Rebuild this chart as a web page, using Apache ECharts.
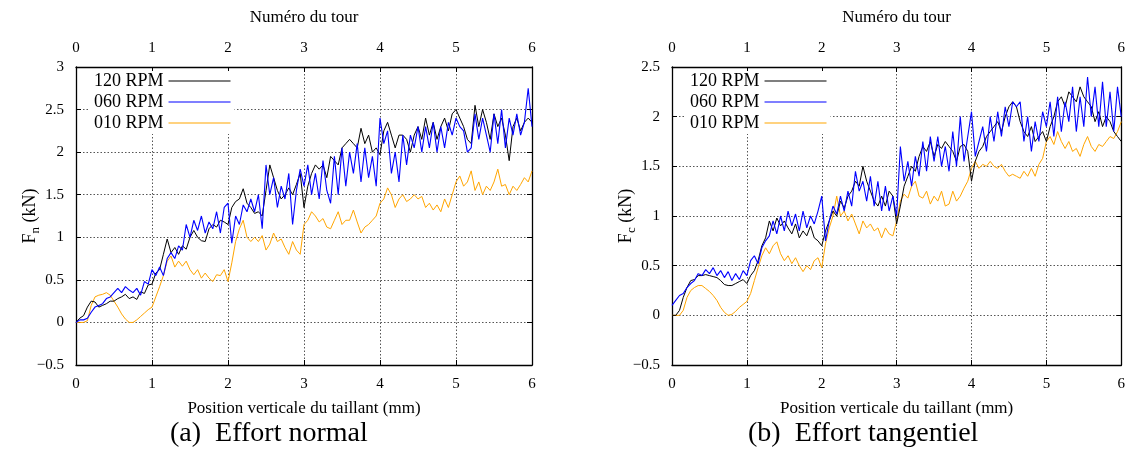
<!DOCTYPE html>
<html>
<head>
<meta charset="utf-8">
<script src="https://cdn.jsdelivr.net/npm/echarts@6/dist/echarts.min.js"></script>
<style>
html,body{margin:0;padding:0;background:#fff;}
#c{width:1128px;height:450px;}
</style>
</head>
<body>
<div id="c"></div>
<script>
// Position step (mm) between samples
const STEP = 0.05;
const seriesNames = ['120 RPM', '060 RPM', '010 RPM'];
const captions = ['(a)  Effort normal', '(b)  Effort tangentiel'];

// Panel (a): normal force Fn (kN)
const fn120 = [0.0,0.05,0.08,0.18,0.25,0.24,0.18,0.2,0.22,0.25,0.25,0.28,0.3,0.33,0.28,0.3,0.27,0.36,0.34,0.44,
0.45,0.58,0.62,0.8,0.98,0.82,0.88,0.8,0.9,0.86,1.0,1.08,1.0,0.96,0.95,1.1,1.15,1.12,1.2,1.18,
1.15,1.35,1.42,1.45,1.57,1.4,1.35,1.28,1.3,1.25,1.55,1.85,1.7,1.55,1.45,1.5,1.58,1.5,1.62,1.75,
1.35,1.6,1.75,1.85,1.8,1.85,1.7,1.95,1.9,1.85,2.05,2.1,2.15,2.1,2.05,2.28,2.1,2.2,2.0,2.05,
1.97,2.25,2.35,2.2,2.05,2.2,2.2,2.15,2.0,2.2,2.3,2.15,2.4,2.2,2.35,2.15,2.3,2.4,2.25,2.45,
2.5,2.4,2.3,2.15,2.1,2.55,2.3,2.5,2.35,2.15,2.45,2.3,2.4,2.2,1.9,2.3,2.4,2.25,2.35,2.4,2.35];
const fn060 = [0.0,0.03,0.03,0.05,0.12,0.18,0.2,0.22,0.28,0.3,0.35,0.4,0.35,0.42,0.38,0.35,0.4,0.32,0.48,0.45,
0.62,0.55,0.65,0.55,0.75,0.82,0.75,0.9,0.85,1.15,1.0,1.2,1.08,1.25,1.05,1.18,1.1,1.3,1.05,1.35,
1.4,0.93,1.25,1.15,1.38,1.3,1.45,1.3,1.5,1.1,1.85,1.5,1.7,1.35,1.6,1.45,1.75,1.15,1.55,1.8,
1.6,1.85,1.5,1.75,1.45,1.9,1.55,1.4,1.95,1.5,2.05,1.6,2.0,1.75,2.1,1.65,2.05,1.7,1.95,1.6,
2.4,2.1,2.25,1.75,2.0,1.65,2.2,1.85,2.2,2.05,2.3,2.0,2.3,2.05,2.35,2.0,2.3,2.05,2.35,2.2,
2.4,2.3,2.25,2.0,2.05,2.45,2.15,2.4,2.2,2.0,2.45,2.1,2.5,2.05,2.4,2.2,2.45,2.2,2.35,2.75,2.3];
const fn010 = [0.0,0.0,0.0,0.02,0.2,0.3,0.32,0.33,0.35,0.32,0.25,0.18,0.1,0.04,0.0,0.0,0.03,0.07,0.11,0.15,
0.18,0.3,0.42,0.55,0.72,0.78,0.65,0.72,0.66,0.72,0.62,0.56,0.62,0.52,0.58,0.52,0.48,0.56,0.55,0.62,
0.48,0.7,0.95,1.1,1.2,1.0,0.95,1.0,0.95,1.02,0.85,0.92,1.05,0.95,0.98,0.88,0.8,0.95,0.85,0.8,
1.15,1.2,1.3,1.25,1.18,1.22,1.12,1.1,1.2,1.3,1.15,1.2,1.2,1.32,1.18,1.05,1.12,1.15,1.2,1.25,
1.4,1.45,1.58,1.5,1.35,1.45,1.5,1.42,1.45,1.5,1.45,1.48,1.35,1.4,1.32,1.38,1.3,1.45,1.35,1.5,
1.65,1.72,1.6,1.65,1.78,1.55,1.65,1.5,1.6,1.55,1.65,1.8,1.6,1.62,1.5,1.6,1.55,1.62,1.7,1.65,1.78];

// Panel (b): tangential force Fc (kN)
const fc120 = [0.0,0.0,0.05,0.18,0.28,0.35,0.36,0.4,0.4,0.41,0.4,0.39,0.38,0.35,0.31,0.3,0.3,0.32,0.34,0.36,
0.32,0.4,0.45,0.55,0.7,0.78,0.95,0.85,0.98,0.9,0.95,0.88,0.82,0.92,0.78,0.85,0.8,0.9,0.78,0.75,
0.7,0.85,0.95,1.05,1.0,1.15,1.08,1.2,1.25,1.35,1.3,1.5,1.35,1.25,1.15,1.1,1.2,1.1,1.25,1.2,
0.92,1.1,1.3,1.4,1.5,1.45,1.6,1.7,1.65,1.75,1.6,1.72,1.68,1.75,1.7,1.65,1.55,1.7,1.72,1.65,
1.35,1.55,1.65,1.7,1.8,1.85,1.9,1.95,1.85,2.0,2.1,2.15,2.1,1.95,1.85,1.8,1.9,1.75,1.8,1.85,
1.75,1.9,2.0,2.15,2.2,2.1,2.25,2.2,2.15,2.3,2.2,2.15,2.1,1.95,2.05,1.9,2.0,1.95,1.85,1.8,1.75];
const fc060 = [0.1,0.15,0.2,0.22,0.28,0.32,0.35,0.42,0.4,0.46,0.42,0.48,0.4,0.45,0.38,0.44,0.35,0.42,0.36,0.45,
0.4,0.55,0.6,0.52,0.68,0.75,0.8,0.95,0.82,1.0,0.85,1.05,0.9,1.02,0.85,1.05,0.88,1.0,0.92,1.05,
1.2,0.75,0.95,1.1,1.02,1.2,1.05,1.25,1.1,1.45,1.25,1.35,1.15,1.4,1.1,1.35,1.05,1.3,1.05,1.2,
1.0,1.7,1.35,1.55,1.3,1.6,1.4,1.75,1.45,1.8,1.55,1.8,1.5,1.7,1.45,1.85,1.5,2.0,1.55,1.8,
2.05,1.6,1.75,1.9,1.65,2.0,1.75,2.05,1.8,2.1,1.9,2.15,2.1,2.15,1.75,2.0,1.65,1.95,1.75,2.05,
1.9,2.15,1.8,2.2,1.85,2.15,1.95,2.3,1.85,2.2,1.9,2.4,2.0,2.3,1.9,2.35,1.9,2.25,1.85,2.3,2.0];
const fc010 = [0.0,0.0,0.0,0.05,0.18,0.25,0.28,0.3,0.3,0.27,0.24,0.2,0.15,0.08,0.03,0.0,0.01,0.04,0.08,0.11,
0.14,0.22,0.35,0.48,0.6,0.68,0.62,0.7,0.74,0.62,0.55,0.6,0.52,0.58,0.5,0.44,0.5,0.46,0.55,0.58,
0.48,0.72,0.88,1.0,1.2,1.0,1.05,0.95,1.02,0.92,0.82,0.95,0.88,0.92,0.85,0.88,0.78,0.88,0.82,0.8,
0.95,1.15,1.22,1.18,1.3,1.35,1.2,1.18,1.25,1.12,1.2,1.15,1.25,1.1,1.12,1.25,1.15,1.2,1.28,1.35,
1.48,1.55,1.48,1.52,1.5,1.55,1.5,1.48,1.52,1.45,1.4,1.42,1.4,1.38,1.45,1.4,1.48,1.4,1.52,1.58,
1.75,1.8,1.72,1.85,1.75,1.68,1.75,1.65,1.68,1.6,1.72,1.8,1.7,1.65,1.72,1.7,1.75,1.8,1.78,1.85,1.95];

const colors = ['#000000', '#0000ff', '#ffa500'];
const FONT = '"Liberation Serif", "DejaVu Serif", serif';

function pairs(arr) {
  return arr.map((v, i) => [Math.round(i * STEP * 100) / 100, v]);
}
function minusFmt(v) {
  return String(v).replace('-', '\u2212');
}

const panels = [
  {left: 76, width: 456, ymin: -0.5, ymax: 3, sub: 'n', data: [fn120, fn060, fn010], capX: 170},
  {left: 672, width: 458, ymin: -0.5, ymax: 2.5, sub: 'c', data: [fc120, fc060, fc010], capX: 748}
];

const grid = [], xAxis = [], yAxis = [], series = [], legend = [], graphic = [];
const gridLine = {show: true, lineStyle: {type: [1.5, 2], color: '#555', width: 1}};
const axisLine = {show: true, onZero: false, lineStyle: {color: '#000', width: 1.3}};
const tick = {show: true, inside: true, length: 5, lineStyle: {color: '#000'}};
const labelStyle = {color: '#000', fontFamily: FONT, fontSize: 15};

panels.forEach((p, k) => {
  grid.push({left: p.left, top: 67, width: p.width, height: 298, containLabel: false});
  xAxis.push({gridIndex: k, type: 'value', min: 0, max: 6, interval: 1, position: 'bottom',
    name: 'Position verticale du taillant (mm)', nameLocation: 'middle', nameGap: 35, nameMoveOverlap: false,
    nameTextStyle: {color: '#000', fontFamily: FONT, fontSize: 17},
    axisLine, axisTick: tick, splitLine: gridLine,
    axisLabel: Object.assign({margin: 12, formatter: minusFmt}, labelStyle)});
  xAxis.push({gridIndex: k, type: 'value', min: 0, max: 6, interval: 1, position: 'top',
    name: 'Numéro du tour', nameLocation: 'middle', nameGap: 41, nameMoveOverlap: false,
    nameTextStyle: {color: '#000', fontFamily: FONT, fontSize: 17},
    axisLine, axisTick: tick, splitLine: {show: false},
    axisLabel: Object.assign({margin: 11}, labelStyle)});
  yAxis.push({gridIndex: k, type: 'value', min: p.ymin, max: p.ymax, interval: 0.5, position: 'left',
    name: '{f|F}{s|' + p.sub + '}{f| (kN)}', nameLocation: 'middle', nameGap: 34, nameRotate: 90,
    nameMoveOverlap: false,
    nameTextStyle: {color: '#000', fontFamily: FONT, fontSize: 18,
      rich: {f: {fontFamily: FONT, fontSize: 18, color: '#000'},
             s: {fontFamily: FONT, fontSize: 13, color: '#000', padding: [10, 0, 0, 0]}}},
    axisLine, axisTick: tick, splitLine: gridLine,
    axisLabel: Object.assign({margin: 12, formatter: minusFmt}, labelStyle)});
  yAxis.push({gridIndex: k, type: 'value', min: p.ymin, max: p.ymax, interval: 0.5, position: 'right',
    axisLine, axisTick: tick, splitLine: {show: false}, axisLabel: {show: false}});

  p.data.forEach((arr, j) => {
    series.push({
      name: seriesNames[j], type: 'line', xAxisIndex: 2 * k, yAxisIndex: 2 * k,
      data: pairs(arr), symbol: 'none', showSymbol: false, animation: false,
      z: j === 1 ? 4 : (j === 0 ? 3 : 2),
      lineStyle: {color: colors[j], width: j === 1 ? 1.1 : 1},
      itemStyle: {color: colors[j]}
    });
  });

  legend.push({
    orient: 'vertical', left: p.left + 12, top: 71, align: 'right',
    icon: 'rect', itemWidth: 62, itemHeight: 1.2, itemGap: 3, padding: [1, 4, 2, 6],
    backgroundColor: '#fff', selectedMode: false, z: 6,
    textStyle: {color: '#000', fontFamily: FONT, fontSize: 18},
    data: seriesNames
  });

  graphic.push({type: 'text', left: p.capX, top: 420, z: 10,
    style: {text: captions[k], fill: '#000', font: '28px ' + FONT}});
});

const chart = echarts.init(document.getElementById('c'), null, {renderer: 'canvas'});
chart.setOption({
  backgroundColor: '#fff', animation: false,
  grid, xAxis, yAxis, series, legend, graphic
});
</script>
</body>
</html>
